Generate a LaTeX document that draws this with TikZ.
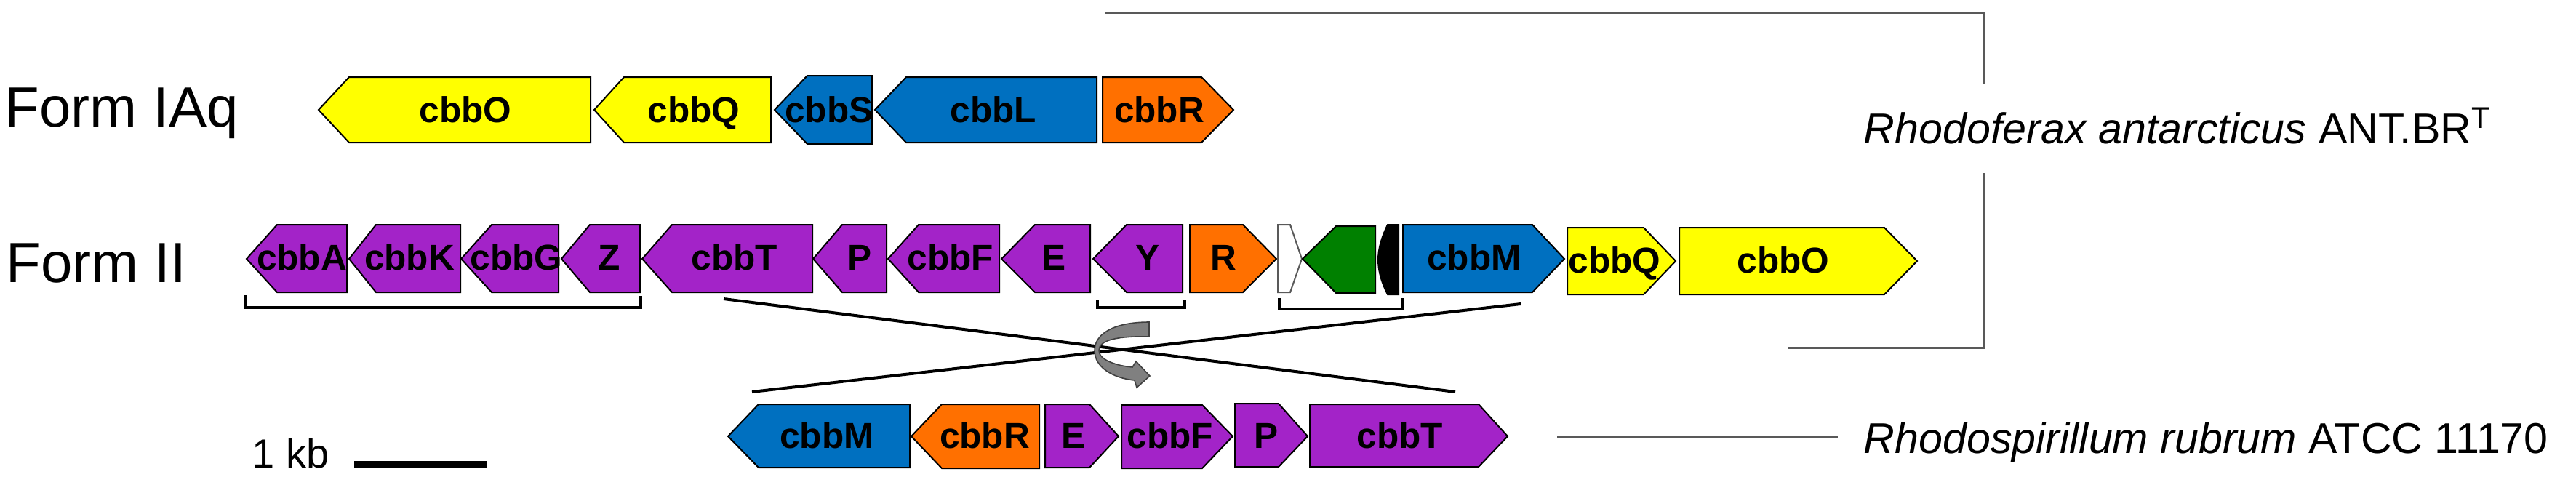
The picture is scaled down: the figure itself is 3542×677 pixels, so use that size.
\documentclass[tikz,border=0pt]{standalone}
\usepackage{fontspec}
\setmainfont{Liberation Sans}
\usepackage{tikz}
\usepackage{xcolor}
\usetikzlibrary{positioning}
\definecolor{genyellow}{RGB}{255,255,0}
\definecolor{genblue}{RGB}{0,112,192}
\definecolor{genorange}{RGB}{255,112,0}
\definecolor{genpurple}{RGB}{163,35,200}
\definecolor{gengreen}{RGB}{0,128,0}
\definecolor{linegrey}{RGB}{89,89,89}
\definecolor{arrowgrey}{RGB}{128,128,128}

\begin{document}
\begin{tikzpicture}[x=0.25pt,y=-0.25pt]
\tikzstyle{every node}+=[inner sep=0pt]
\tikzstyle{gene}=[draw=black, line width=0.5pt, line join=miter]
\tikzstyle{glabel}=[anchor=base, font=\bfseries\fontsize{12.4}{14}\selectfont]
\tikzstyle{bigtext}=[anchor=base west, font=\fontsize{19.5}{22}\selectfont]
\tikzstyle{species}=[anchor=base west, font=\fontsize{14.8}{18}\selectfont]
\tikzstyle{bracket}=[black, line width=0.9pt]
\tikzstyle{sbracket}=[linegrey, line width=0.75pt]
\useasboundingbox (0,0) rectangle (3542,677);
% row labels
\node [bigtext] (formIAq) at (6,174) {Form IAq};
\node [bigtext] (formII) at (8,388) {Form II};
% Form IAq
\filldraw [gene, fill=genyellow] (438,151) -- (480,106) -- (812,106) -- (812,196) -- (480,196) -- cycle;
\node [glabel] (iaO) at (640,168) {cbbO};
\filldraw [gene, fill=genyellow] (817,151) -- (858,106) -- (1060,106) -- (1060,196) -- (858,196) -- cycle;
\node [glabel] (iaQ) at (954,168) {cbbQ};
\filldraw [gene, fill=genblue] (1065,151) -- (1110,104) -- (1199,104) -- (1199,198) -- (1110,198) -- cycle;
\node [glabel] (iaS) at (1140,168) {cbbS};
\filldraw [gene, fill=genblue] (1203,151) -- (1246,106) -- (1508,106) -- (1508,196) -- (1246,196) -- cycle;
\node [glabel] (iaL) at (1366,168) {cbbL};
\filldraw [gene, fill=genorange] (1516,106) -- (1652,106) -- (1696,151) -- (1652,196) -- (1516,196) -- cycle;
\node [glabel] (iaR) at (1594,168) {cbbR};
% Form II
\filldraw [gene, fill=genpurple] (339,356) -- (381,309) -- (477,309) -- (477,402) -- (381,402) -- cycle;
\node [glabel] (iiA) at (415,371) {cbbA};
\filldraw [gene, fill=genpurple] (480,356) -- (517,309) -- (633,309) -- (633,402) -- (517,402) -- cycle;
\node [glabel] (iiK) at (563,371) {cbbK};
\filldraw [gene, fill=genpurple] (634,356) -- (676,309) -- (768,309) -- (768,402) -- (676,402) -- cycle;
\node [glabel] (iiG) at (710,371) {cbbG};
\filldraw [gene, fill=genpurple] (772,356) -- (811,309) -- (880,309) -- (880,402) -- (811,402) -- cycle;
\node [glabel] (iiZ) at (838,371) {Z};
\filldraw [gene, fill=genpurple] (883,356) -- (924,309) -- (1117,309) -- (1117,402) -- (924,402) -- cycle;
\node [glabel] (iiT) at (1010,371) {cbbT};
\filldraw [gene, fill=genpurple] (1118,356) -- (1158,309) -- (1219,309) -- (1219,402) -- (1158,402) -- cycle;
\node [glabel] (iiP) at (1182,371) {P};
\filldraw [gene, fill=genpurple] (1221,356) -- (1263,309) -- (1374,309) -- (1374,402) -- (1263,402) -- cycle;
\node [glabel] (iiF) at (1307,371) {cbbF};
\filldraw [gene, fill=genpurple] (1377,356) -- (1423,309) -- (1499,309) -- (1499,402) -- (1423,402) -- cycle;
\node [glabel] (iiE) at (1449,371) {E};
\filldraw [gene, fill=genpurple] (1503,356) -- (1549,309) -- (1626,309) -- (1626,402) -- (1549,402) -- cycle;
\node [glabel] (iiY) at (1578,371) {Y};
\filldraw [gene, fill=genorange] (1636,309) -- (1709,309) -- (1755,356) -- (1709,402) -- (1636,402) -- cycle;
\node [glabel] (iiR) at (1682,371) {R};
\filldraw [gene, draw=linegrey, fill=white] (1757,309) -- (1774,309) -- (1790,356) -- (1774,402) -- (1757,402) -- cycle;
\filldraw [gene, fill=gengreen] (1791,356) -- (1837,311) -- (1891,311) -- (1891,403) -- (1837,403) -- cycle;
\filldraw [gene, fill=black] (1908,309) .. controls (1898,330) and (1895,345) .. (1895,357) .. controls (1895,370) and (1898,385) .. (1908,405) -- (1923,405) -- (1923,309) -- cycle;
\filldraw [gene, fill=genblue] (1929,309) -- (2107,309) -- (2151,356) -- (2107,402) -- (1929,402) -- cycle;
\node [glabel] (iiM) at (2027,371) {cbbM};
\filldraw [gene, fill=genyellow] (2155,313) -- (2260,313) -- (2304,359) -- (2260,405) -- (2155,405) -- cycle;
\node [glabel] (iiQ) at (2220,375) {cbbQ};
\filldraw [gene, fill=genyellow] (2309,313) -- (2591,313) -- (2636,359) -- (2591,405) -- (2309,405) -- cycle;
\node [glabel] (iiO) at (2452,375) {cbbO};
% brackets under Form II
\draw [bracket] (338,406) -- (338,423) -- (881,423) -- (881,407);
\draw [bracket] (1509,412) -- (1509,423) -- (1629,423) -- (1629,412);
\draw [bracket] (1759,410) -- (1759,425) -- (1929,425) -- (1929,410);
% R. rubrum
\filldraw [gene, fill=genblue] (1001,600) -- (1043,556) -- (1251,556) -- (1251,643) -- (1043,643) -- cycle;
\node [glabel] (rrM) at (1137,616) {cbbM};
\filldraw [gene, fill=genorange] (1253,600) -- (1295,556) -- (1429,556) -- (1429,644) -- (1295,644) -- cycle;
\node [glabel] (rrR) at (1354,616) {cbbR};
\filldraw [gene, fill=genpurple] (1437,556) -- (1498,556) -- (1538,600) -- (1498,643) -- (1437,643) -- cycle;
\node [glabel] (rrE) at (1476,616) {E};
\filldraw [gene, fill=genpurple] (1542,557) -- (1653,557) -- (1695,600) -- (1653,644) -- (1542,644) -- cycle;
\node [glabel] (rrF) at (1609,616) {cbbF};
\filldraw [gene, fill=genpurple] (1698,555) -- (1758,555) -- (1798,600) -- (1758,642) -- (1698,642) -- cycle;
\node [glabel] (rrP) at (1741,616) {P};
\filldraw [gene, fill=genpurple] (1801,556) -- (2033,556) -- (2073,600) -- (2033,642) -- (1801,642) -- cycle;
\node [glabel] (rrT) at (1925,616) {cbbT};
% crossing lines
\coordinate (xa1) at (995,411);
\coordinate (xa2) at (2001,539);
\coordinate (xb1) at (1034,539);
\coordinate (xb2) at (2091,418);
\draw [black, line width=1pt] (xa1) -- (xa2);
\draw [black, line width=1pt] (xb1) -- (xb2);
% turning arrow
\filldraw [fill=arrowgrey, draw=black!75, line width=0.4pt] (1580,443) .. controls (1530,443) and (1505,460) .. (1505,482) .. controls (1505,505) and (1530,520) .. (1560,523) -- (1563,533) -- (1581,517) -- (1562,497) -- (1557,505) .. controls (1535,503) and (1511,495) .. (1511,482) .. controls (1511,468) and (1535,462) .. (1580,463) -- cycle;
% species
\node [species] (rant) at (2562,197) {\textit{Rhodoferax antarcticus} ANT.BR\textsuperscript{T}};
\node [species] (rrub) at (2562,623) {\textit{Rhodospirillum rubrum} ATCC 11170};
\coordinate (sb1) at (1520,17);
\coordinate (sb2) at (2728,17);
\coordinate (sb3) at (2728,116);
\coordinate (sb4) at (2728,238);
\coordinate (sb5) at (2728,478);
\coordinate (sb6) at (2459,478);
\draw [sbracket] (sb1) -- (sb2) -- (sb3);
\draw [sbracket] (sb4) -- (sb5) -- (sb6);
\coordinate (rl1) at (2141,601);
\coordinate (rl2) at (2527,601);
\draw [sbracket] (rl1) -- (rl2);
% scale
\node [anchor=base west, font=\fontsize{14}{16}\selectfont] (kb) at (346,643) {1 kb};
\coordinate (kb1) at (487,639);
\coordinate (kb2) at (669,639);
\draw [black, line width=2.5pt] (kb1) -- (kb2);
\end{tikzpicture}
\end{document}
